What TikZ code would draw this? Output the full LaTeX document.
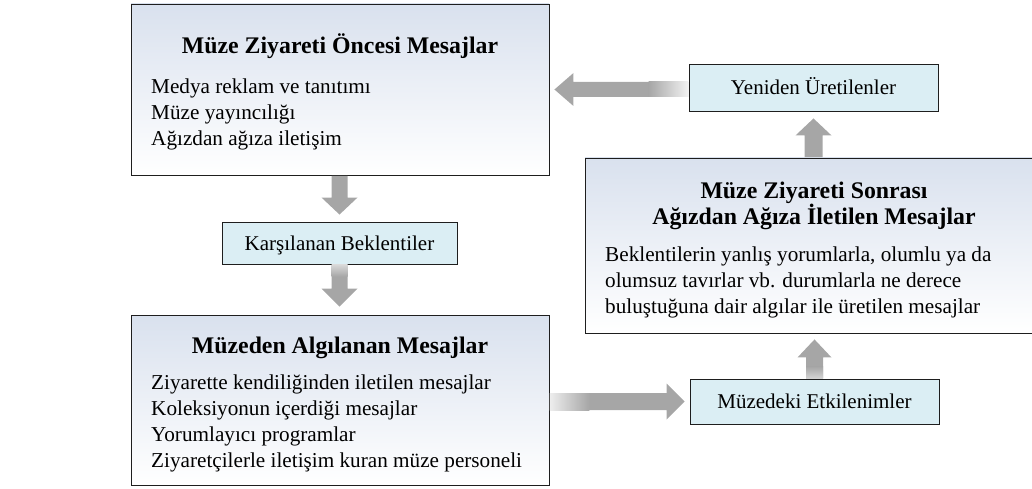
\documentclass[tikz,border=0pt]{standalone}
\usepackage{fontspec}
\setmainfont{Liberation Serif}
\usetikzlibrary{calc}
\definecolor{arrowgray}{HTML}{A6A6A6}
\definecolor{smallfill}{HTML}{DBEEF4}
\definecolor{bigtop}{HTML}{D9E1EE}
\definecolor{edgecol}{HTML}{1E1E1E}
\tikzset{
  box/.style={rectangle, inner sep=0pt, draw=edgecol, line width=0.9pt},
  bigbox/.style={box, top color=bigtop, bottom color=white},
  smallbox/.style={box, fill=smallfill, font=\fontsize{21}{24}\selectfont,
    text height=14pt, text depth=0pt},
  ttl/.style={inner sep=0pt, anchor=base, font=\fontsize{23.8}{26}\selectfont\bfseries},
  txt/.style={inner sep=0pt, anchor=base west, font=\fontsize{21.2}{26}\selectfont},
  blockarrow/.style={fill=arrowgray},
}
\begin{document}
\begin{tikzpicture}[x=1pt,y=-1pt]
\useasboundingbox (0,0) rectangle (1032,489);
\clip (0,0) rectangle (1032,489);

% boxes
\node[bigbox, minimum width=418pt, minimum height=171pt] (pre)  at (340,89.5) {};
\node[bigbox, minimum width=418pt, minimum height=170pt] (perc) at (340,400) {};
\node[bigbox, minimum width=458pt, minimum height=175pt] (post) at (814,245.5) {};
\node[smallbox, minimum width=249pt, minimum height=47pt] (yen) at (813.5,87.5) {Yeniden Üretilenler};
\node[smallbox, minimum width=235pt, minimum height=42pt] (kb)  at (339.5,243) {Karşılanan Beklentiler};
\node[smallbox, minimum width=249pt, minimum height=45pt] (etk) at (814.5,401.5) {Müzedeki Etkilenimler};

% texts of the large boxes
\node[ttl] (preT) at (340,54) {Müze Ziyareti Öncesi Mesajlar};
\node[txt] (preA) at (151,94)  {Medya reklam ve tanıtımı};
\node[txt] (preB) at (151,120) {Müze yayıncılığı};
\node[txt] (preC) at (151,146) {Ağızdan ağıza iletişim};

\node[ttl] (percT) at (340,353) {Müzeden Algılanan Mesajlar};
\node[txt] (percA) at (151,389) {Ziyarette kendiliğinden iletilen mesajlar};
\node[txt] (percB) at (151,415) {Koleksiyonun içerdiği mesajlar};
\node[txt] (percC) at (151,441) {Yorumlayıcı programlar};
\node[txt] (percD) at (151,467) {Ziyaretçilerle iletişim kuran müze personeli};

\node[ttl] (postT1) at (814,198) {Müze Ziyareti Sonrası};
\node[ttl] (postT2) at (814,224) {Ağızdan Ağıza İletilen Mesajlar};
\node[txt] (postA) at (605,261) {Beklentilerin yanlış yorumlarla, olumlu ya da};
\node[txt] (postB) at (605,287) {olumsuz tavırlar vb. durumlarla ne derece};
\node[txt] (postC) at (605,313) {buluştuğuna dair algılar ile üretilen mesajlar};

% block arrows
% pre -> kb
\fill[blockarrow] let \p1=(kb.north |- pre.south), \p2=(kb.north) in
  (\x1-8pt,\y1-0.5pt) -- (\x1-8pt,\y2+24pt) -- (\x1-18pt,\y2+24pt) -- (\x1,\y2+7pt)
  -- (\x1+18pt,\y2+24pt) -- (\x1+8pt,\y2+24pt) -- (\x1+8pt,\y1-0.5pt) -- cycle;
% kb -> perc
\fill[blockarrow] let \p1=(kb.south), \p2=(kb.south |- perc.north) in
  (\x1-8pt,\y1-0.5pt) -- (\x1-8pt,\y2+26pt) -- (\x1-18pt,\y2+26pt) -- (\x1,\y2+8pt)
  -- (\x1+18pt,\y2+26pt) -- (\x1+8pt,\y2+26pt) -- (\x1+8pt,\y1-0.5pt) -- cycle;
\shade[top color=arrowgray!45, bottom color=arrowgray] let \p1=(kb.south) in
  (\x1-8pt,\y1-0.5pt) rectangle (\x1+8pt,\y1-12pt);
% perc -> etk
\fill[blockarrow] let \p1=(etk.west -| perc.east), \p2=(etk.west) in
  (\x1+0.5pt,\y1+8.5pt) -- (\x2-23pt,\y1+8.5pt) -- (\x2-23pt,\y1+18pt) -- (\x2-5pt,\y1)
  -- (\x2-23pt,\y1-18pt) -- (\x2-23pt,\y1-8.5pt) -- (\x1+0.5pt,\y1-8.5pt) -- cycle;
\shade[left color=arrowgray!20, right color=arrowgray] let \p1=(etk.west -| perc.east) in
  (\x1+0.5pt,\y1-8.5pt) rectangle (\x1+40pt,\y1+8.5pt);
% etk -> post
\fill[blockarrow] let \p1=(etk.north), \p2=(etk.north |- post.south) in
  (\x1-8.5pt,\y1+0.5pt) -- (\x1-8.5pt,\y2-24pt) -- (\x1-17pt,\y2-24pt) -- (\x1,\y2-6pt)
  -- (\x1+17pt,\y2-24pt) -- (\x1+8.5pt,\y2-24pt) -- (\x1+8.5pt,\y1+0.5pt) -- cycle;
\shade[bottom color=arrowgray!50, top color=arrowgray] let \p1=(etk.north) in
  (\x1-8.5pt,\y1+0.5pt) rectangle (\x1+8.5pt,\y1+12pt);
% post -> yen
\fill[blockarrow] let \p1=(yen.south |- post.north), \p2=(yen.south) in
  (\x1-9pt,\y1+0.5pt) -- (\x1-9pt,\y2-24pt) -- (\x1-18pt,\y2-24pt) -- (\x1,\y2-7pt)
  -- (\x1+18pt,\y2-24pt) -- (\x1+9pt,\y2-24pt) -- (\x1+9pt,\y1+0.5pt) -- cycle;
% yen -> pre
\fill[blockarrow] let \p1=(yen.west), \p2=(yen.west -| pre.east) in
  (\x1-0.5pt,\y1-9.5pt) -- (\x2+24pt,\y1-9.5pt) -- (\x2+24pt,\y1-18.5pt) -- (\x2+5pt,\y1-2pt)
  -- (\x2+24pt,\y1+14.5pt) -- (\x2+24pt,\y1+5.5pt) -- (\x1-0.5pt,\y1+5.5pt) -- cycle;
\shade[left color=arrowgray, right color=arrowgray!15] let \p1=(yen.west) in
  (\x1-40pt,\y1-9.5pt) rectangle (\x1-0.5pt,\y1+5.5pt);
\end{tikzpicture}
\end{document}
